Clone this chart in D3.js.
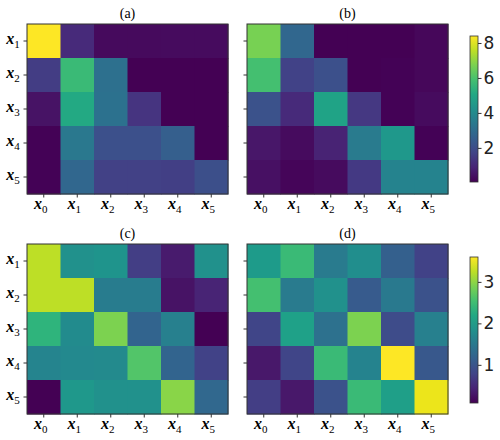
<!DOCTYPE html>
<html>
<head>
<meta charset="utf-8">
<script src="https://cdn.jsdelivr.net/npm/d3@7"></script>
<style>
  body { margin: 0; background: #fff; }
  .tick text { font-family: "DejaVu Sans", sans-serif; }
</style>
</head>
<body>
<div id="chart"></div>
<script>
// Row / column labels
var rowLabels = ["1", "2", "3", "4", "5"];
var colLabels = ["0", "1", "2", "3", "4", "5"];
var titles = ["(a)", "(b)", "(c)", "(d)"];

// heatmap values, rows x1..x5, columns x0..x5
var valuesA = [
  [8.4, 1.05, 0.25, 0.25, 0.28, 0.3],
  [1.55, 5.7, 3.1, 0.05, 0.05, 0.05],
  [0.45, 5.1, 3.15, 1.3, 0.05, 0.05],
  [0.1, 3.4, 2.1, 2.1, 2.55, 0.05],
  [0.1, 2.8, 1.65, 1.65, 1.6, 2.05]
];
var valuesB = [
  [6.7, 2.8, 0.05, 0.05, 0.08, 0.2],
  [5.9, 1.7, 2.1, 0.05, 0.1, 0.2],
  [2.15, 1.05, 4.9, 1.4, 0.1, 0.3],
  [0.55, 0.3, 0.85, 3.5, 4.5, 0.1],
  [0.4, 0.15, 0.3, 1.45, 3.8, 3.8]
];
var valuesC = [
  [3.25, 1.85, 1.9, 0.72, 0.33, 1.85],
  [3.25, 3.25, 1.55, 1.55, 0.25, 0.43],
  [2.37, 1.77, 2.9, 1.2, 1.6, 0.08],
  [1.67, 1.73, 1.75, 2.65, 1.2, 0.78],
  [0.08, 1.95, 1.85, 1.85, 2.97, 1.25]
];
var valuesD = [
  [2.0, 2.47, 1.53, 1.8, 1.14, 0.78],
  [2.55, 1.53, 1.85, 1.07, 1.5, 0.96],
  [0.8, 2.08, 1.38, 2.9, 0.89, 1.6],
  [0.3, 0.8, 2.47, 1.66, 3.6, 1.03],
  [0.72, 0.3, 0.96, 2.47, 2.05, 3.5]
];

// colour ranges and colorbar ticks
var domainTop = [0.05, 8.4];
var domainBottom = [0.08, 3.6];
var ticksTop = [2, 4, 6, 8];
var ticksBottom = [1, 2, 3];

var svgWidth = 500, svgHeight = 440;

var svg = d3.select("#chart")
  .append("svg")
  .attr("width", svgWidth)
  .attr("height", svgHeight);

var defs = svg.append("defs");

var panels = [
  { data: valuesA, left: 27, top: 24, domain: domainTop, title: titles[0], ylab: true },
  { data: valuesB, left: 247, top: 24, domain: domainTop, title: titles[1], ylab: false },
  { data: valuesC, left: 27, top: 244, domain: domainBottom, title: titles[2], ylab: true },
  { data: valuesD, left: 247, top: 244, domain: domainBottom, title: titles[3], ylab: false }
];

var panelW = 201, panelH = 170;

function mathLabel(sel, sub) {
  sel.append("tspan")
    .attr("font-family", "'Liberation Serif', serif")
    .attr("font-style", "italic")
    .attr("font-weight", "bold")
    .attr("font-size", 16)
    .text("x");
  sel.append("tspan")
    .attr("font-family", "'Liberation Serif', serif")
    .attr("font-size", 11)
    .attr("dy", 3.5)
    .text(sub);
}

panels.forEach(function(p) {
  var g = svg.append("g")
    .attr("transform", `translate(${p.left}, ${p.top})`);

  var x = d3.scaleBand().domain(colLabels).range([0, panelW]);
  var y = d3.scaleBand().domain(rowLabels).range([0, panelH]);
  var color = d3.scaleSequential(d3.interpolateViridis).domain(p.domain);

  var cells = [];
  p.data.forEach(function(row, i) {
    row.forEach(function(v, j) {
      cells.push({ r: rowLabels[i], c: colLabels[j], v: v });
    });
  });

  g.selectAll("rect.cell")
    .data(cells)
    .enter()
    .append("rect")
    .attr("class", "cell")
    .attr("x", d => x(d.c))
    .attr("y", d => y(d.r))
    .attr("width", x.bandwidth() + 0.5)
    .attr("height", y.bandwidth() + 0.5)
    .attr("fill", d => color(d.v));

  // frame
  g.append("rect")
    .attr("width", panelW)
    .attr("height", panelH)
    .attr("fill", "none")
    .attr("stroke", "#333")
    .attr("stroke-width", 1);

  // ticks
  g.selectAll("line.xt")
    .data(colLabels)
    .enter()
    .append("line")
    .attr("x1", d => x(d) + x.bandwidth() / 2)
    .attr("x2", d => x(d) + x.bandwidth() / 2)
    .attr("y1", panelH)
    .attr("y2", panelH + 3.5)
    .attr("stroke", "#333");

  g.selectAll("line.yt")
    .data(rowLabels)
    .enter()
    .append("line")
    .attr("x1", -3.5)
    .attr("x2", 0)
    .attr("y1", d => y(d) + y.bandwidth() / 2)
    .attr("y2", d => y(d) + y.bandwidth() / 2)
    .attr("stroke", "#333");

  // x labels
  g.selectAll("text.xl")
    .data(colLabels)
    .enter()
    .append("text")
    .attr("x", d => x(d) + x.bandwidth() / 2 - 3)
    .attr("y", panelH + 15)
    .attr("text-anchor", "middle")
    .each(function(d) { mathLabel(d3.select(this), d); });

  if (p.ylab) {
    g.selectAll("text.yl")
      .data(rowLabels)
      .enter()
      .append("text")
      .attr("x", -14)
      .attr("y", d => y(d) + y.bandwidth() / 2 + 3)
      .attr("text-anchor", "middle")
      .each(function(d) { mathLabel(d3.select(this), d); });
  }

  // title
  g.append("text")
    .attr("x", panelW / 2)
    .attr("y", -6)
    .attr("text-anchor", "middle")
    .attr("font-family", "'Liberation Serif', serif")
    .attr("font-size", 14)
    .text(p.title);
});

// colorbars
function colorbar(id, top, height, domain, ticks) {
  var cbX = 470, cbW = 8;
  var grad = defs.append("linearGradient")
    .attr("id", id)
    .attr("x1", "0%").attr("x2", "0%")
    .attr("y1", "100%").attr("y2", "0%");
  d3.range(0, 1.01, 0.1).forEach(function(t) {
    grad.append("stop")
      .attr("offset", (t * 100) + "%")
      .attr("stop-color", d3.interpolateViridis(t));
  });

  var cb = svg.append("g").attr("transform", `translate(${cbX}, ${top})`);
  cb.append("rect")
    .attr("width", cbW)
    .attr("height", height)
    .attr("fill", `url(#${id})`)
    .attr("stroke", "#333")
    .attr("stroke-width", 0.8);

  var scale = d3.scaleLinear().domain(domain).range([height, 0]);
  var axis = d3.axisRight(scale).tickValues(ticks).tickSize(3.5).tickPadding(2).tickFormat(d3.format("d"));
  var ax = cb.append("g")
    .attr("transform", `translate(${cbW}, 0)`)
    .call(axis);
  ax.select(".domain").remove();
  ax.selectAll("text").attr("font-size", 17).attr("fill", "#222");
  ax.selectAll("line").attr("stroke", "#333");
}

colorbar("cbTop", 36, 146, domainTop, ticksTop);
colorbar("cbBottom", 257, 146, domainBottom, ticksBottom);
</script>
</body>
</html>
